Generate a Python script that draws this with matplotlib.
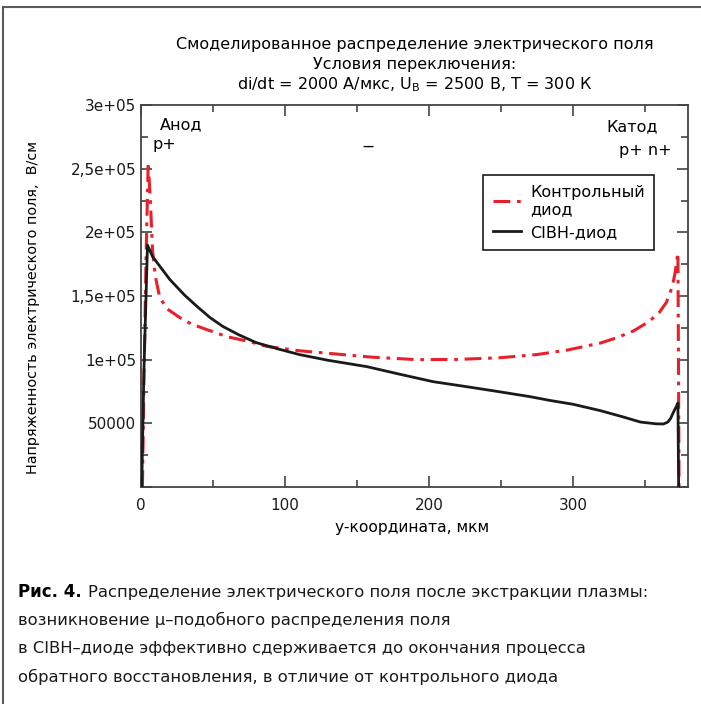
import numpy as np
import matplotlib
matplotlib.use("Agg")
import matplotlib.pyplot as plt
from matplotlib.lines import Line2D
from matplotlib.ticker import MultipleLocator

# values
x_ctrl = [1, 2, 3.5, 5, 6.5, 8, 10, 13, 18, 27, 35, 46, 60, 76, 87, 110, 133, 160,
          192, 220, 249, 275, 296, 319, 330, 342, 353, 360, 365, 369, 371, 373, 373.8]
y_ctrl = [0, 80000, 180000, 255000, 225000, 186000, 165000, 149000, 140000, 133000,
          128000, 123500, 118000, 114000, 110500, 107000, 104700, 102000, 100000,
          100200, 101500, 104000, 107500, 113000, 117000, 122500, 130000, 137000,
          145000, 157000, 168000, 184000, 0]

x_cibh = [0.5, 2, 4.5, 8, 14, 20, 30, 39, 48, 57, 68, 80, 95, 110, 130, 157, 180, 203,
          225, 249, 270, 284, 300, 319, 335, 347, 358, 363, 366, 368, 370, 372, 373, 373.5]
y_cibh = [0, 90000, 190000, 181000, 172000, 163000, 151000, 141700, 133000, 126000,
          119500, 113400, 108500, 104000, 99500, 94500, 88500, 82700, 79000, 74800,
          71000, 68000, 65000, 60000, 55000, 51000, 49600, 49500, 51000, 54000, 59000,
          63500, 66000, 0]

y_ticks = [0, 50000, 100000, 150000, 200000, 250000, 300000]
y_ticklabels = ["", "50000", "1e+05", "1,5e+05", "2e+05", "2,5e+05", "3e+05"]
x_ticks = [0, 100, 200, 300]

title_lines = ["Смоделированное распределение электрического поля",
               "Условия переключения:",
               "di/dt = 2000 А/мкс, U$\\mathregular{_B}$ = 2500 В, Т = 300 К"]

caption_lines = ["возникновение µ\u2013подобного распределения поля",
                 "в CIBH\u2013диоде эффективно сдерживается до окончания процесса",
                 "обратного восстановления, в отличие от контрольного диода"]

plt.rcParams['font.family'] = ['DejaVu Sans']

W, H = 701, 704
fig = plt.figure(figsize=(W/100., H/100.), dpi=100)
fig.patch.set_facecolor('white')

def fx(px):
    return px / float(W)

def fy(py):
    return 1 - py / float(H)

# thin gray frame (top and left edges)
fig.add_artist(Line2D([fx(3), 1.0], [fy(7), fy(7)], color='#5a5a5a', lw=1.5))
fig.add_artist(Line2D([fx(3), fx(3)], [fy(7), 0.0], color='#5a5a5a', lw=1.5))

ax = fig.add_axes([fx(141), fy(487), fx(688) - fx(141), fy(105) - fy(487)])

ax.plot(x_ctrl, y_ctrl, color='#e8202a', lw=2.2, linestyle=(0, (5.5, 2.2, 1.2, 2.2)),
        label="Контрольный\nдиод", zorder=2)
ax.plot(x_cibh, y_cibh, color='#1a1a1a', lw=2.0, label="CIBH-диод", zorder=3)

ax.set_xlim(0, 380)
ax.set_ylim(0, 300000)
ax.set_xticks(x_ticks)
ax.set_xticklabels([str(v) for v in x_ticks])
ax.xaxis.set_minor_locator(MultipleLocator(50))
ax.set_yticks(y_ticks)
ax.set_yticklabels(y_ticklabels)
ax.yaxis.set_minor_locator(MultipleLocator(25000))
ax.tick_params(which='both', direction='in', top=True, right=True, colors='#333333',
               labelcolor='#1a1a1a', labelsize=11)
ax.tick_params(which='major', length=8, width=1.1)
ax.tick_params(which='minor', length=5, width=1.1)
ax.tick_params(axis='x', pad=8)
for s in ax.spines.values():
    s.set_color('#444444')
    s.set_linewidth(1.3)

ax.set_xlabel("y-координата, мкм", fontsize=11.2)
ax.xaxis.set_label_coords((412 - 141) / 547., -(520 - 487) / 382.)
ax.set_ylabel("Напряженность электрического поля,  В/см", fontsize=10.4)
ax.yaxis.set_label_coords((40 - 141) / 547., (487 - 307) / 382.)

leg = ax.legend(loc='upper left', bbox_to_anchor=((483 - 141) / 547., (487 - 175) / 382.),
                fontsize=11.5, frameon=True, fancybox=False, framealpha=1,
                edgecolor='#1a1a1a', handlelength=1.8, handletextpad=0.55,
                borderpad=0.6, labelspacing=0.5, borderaxespad=0)
leg.get_frame().set_linewidth(1.2)

# region labels
fig.text(fx(160), fy(125), "Анод", fontsize=11.5, va='center', ha='left')
fig.text(fx(153), fy(145), "p+", fontsize=11.5, va='center', ha='left')
fig.text(fx(658), fy(127), "Катод", fontsize=11.5, va='center', ha='right')
fig.text(fx(672), fy(151), "p+ n+", fontsize=11.5, va='center', ha='right')
fig.text(fx(368), fy(147), "\u2014", fontsize=8, fontweight='bold', va='center', ha='center')

# title
for i, line in enumerate(title_lines):
    fig.text(fx(415), fy(45 + 20 * i), line, fontsize=11.5, ha='center', va='center')

# caption
t = fig.text(fx(18), fy(592), "Рис. 4.", fontsize=12, fontweight='bold',
             ha='left', va='center')
fig.canvas.draw()
bb = t.get_window_extent()
fig.text(bb.x1 / W + fx(6), fy(592), "Распределение электрического поля после экстракции плазмы:",
         fontsize=11.8, ha='left', va='center', color='#1a1a1a')
for i, line in enumerate(caption_lines):
    fig.text(fx(18), fy(620 + 28.5 * i), line, fontsize=11.8, ha='left', va='center',
             color='#1a1a1a')

fig.savefig("out.png", dpi=100)
